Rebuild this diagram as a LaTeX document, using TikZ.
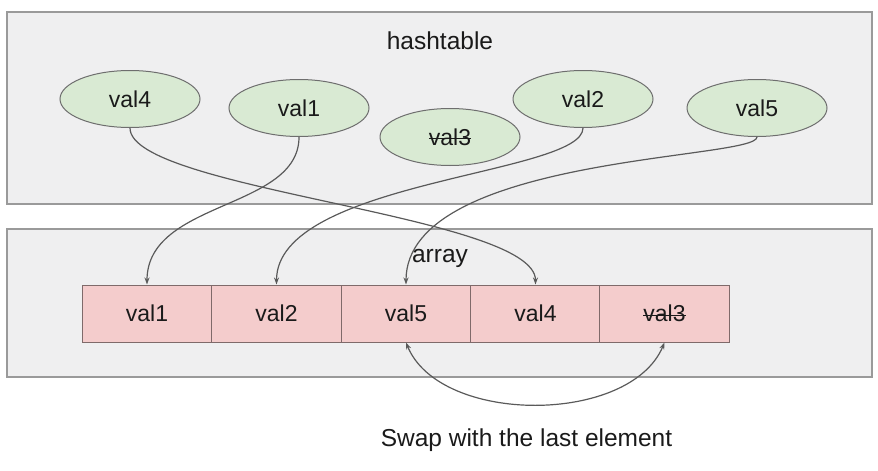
\documentclass[tikz,border=0pt]{standalone}
\usepackage{fontspec}
\setmainfont{Liberation Sans}
\usetikzlibrary{shapes.geometric,arrows.meta}

% struck-through text: a rule laid over the text box
\newcommand{\struck}[1]{\setbox0=\hbox{#1}\rlap{\raisebox{0.36\ht0}{\rule{\wd0}{1.2pt}}}\box0}

\definecolor{panelfill}{HTML}{EFEFF0}
\definecolor{panelline}{HTML}{9A9A9A}
\definecolor{keyfill}{HTML}{D9EAD3}
\definecolor{keyline}{HTML}{6E6E6E}
\definecolor{cellfill}{HTML}{F4CCCC}
\definecolor{cellline}{HTML}{7F6A6A}
\definecolor{linkcol}{HTML}{5A5A5A}
\definecolor{txt}{HTML}{1A1A1A}

\tikzset{
  panel/.style={draw=panelline, fill=panelfill, line width=1.1pt, inner sep=0pt},
  keynode/.style={ellipse, draw=keyline, fill=keyfill, line width=1pt,
    minimum width=140pt, minimum height=57pt, inner sep=0pt, text=txt,
    font=\fontsize{23}{27}\selectfont},
  cell/.style={rectangle, draw=cellline, fill=cellfill, line width=1pt,
    minimum width=129.4pt, minimum height=57pt, inner sep=0pt, text=txt,
    font=\fontsize{23}{27}\selectfont},
  caption/.style={text=txt, inner sep=0pt, font=\fontsize{24.5}{29}\selectfont},
  link/.style={draw=linkcol, line width=1.2pt, -{Stealth[length=7pt,width=5pt]}},
  swaplink/.style={draw=linkcol, line width=1.2pt,
    {Stealth[length=7pt,width=5pt]}-{Stealth[length=7pt,width=5pt]}},
}

\begin{document}
\begin{tikzpicture}[x=1pt, y=-1pt]
  \useasboundingbox (0,0) rectangle (878,471);

  % containers
  \node[panel, minimum width=865pt, minimum height=192pt] (ht) at (439.5,108) {};
  \node[panel, minimum width=865pt, minimum height=148pt] (arr) at (439.5,303) {};
  \node[caption] (htlabel) at (440,41) {hashtable};
  \node[caption] (arrlabel) at (440,258) {array};

  % hashtable entries
  \node[keynode] (k4) at (130,99) {val4};
  \node[keynode] (k1) at (299,108) {val1};
  \node[keynode] (k3) at (450,137) {\struck{val3}};
  \node[keynode] (k2) at (583,99) {val2};
  \node[keynode] (k5) at (757,108) {val5};

  % array slots
  \node[cell] (c1) at (147,313.5) {val1};
  \node[cell] (c2) at (276.5,313.5) {val2};
  \node[cell] (c3) at (406,313.5) {val5};
  \node[cell] (c4) at (535.5,313.5) {val4};
  \node[cell] (c5) at (664.5,313.5) {\struck{val3}};

  \node[caption] (swaplabel) at (526.5,440) {Swap with the last element};

  % hashtable -> array index links
  \draw[link] (k1.south) .. controls (299,210) and (147,200) .. (c1.north);
  \draw[link] (k4.south) .. controls (130,190) and (535.5,215) .. (c4.north);
  \draw[link] (k2.south) .. controls (583,175) and (276.5,180) .. (c2.north);
  \draw[link] (k5.south) .. controls (757,160) and (406,155) .. (c3.north);

  % swap
  \draw[swaplink] (c3.south) .. controls (440,425) and (630,425) .. (c5.south);
\end{tikzpicture}
\end{document}
